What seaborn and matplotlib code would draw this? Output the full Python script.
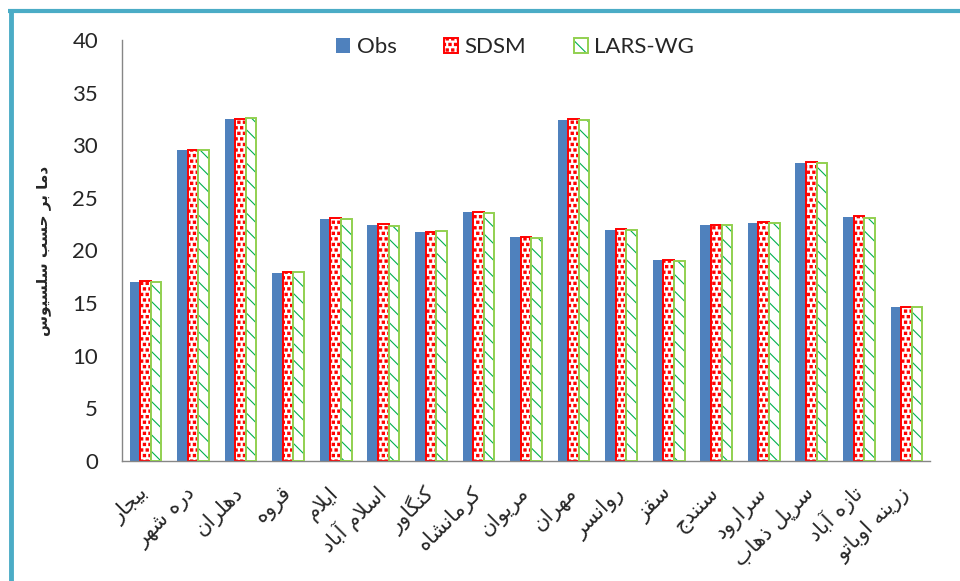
import numpy as np
import pandas as pd
import matplotlib
matplotlib.use("Agg")
import matplotlib.pyplot as plt
import matplotlib.hatch as mhatch
from matplotlib.path import Path
from matplotlib.patches import Patch, Rectangle
from matplotlib.lines import Line2D
from matplotlib.ticker import FixedLocator
import seaborn as sns

# ---------------------------------------------------------------- data
stations = ["بیجار", "دره شهر", "دهلران", "قروه", "ایلام", "اسلام آباد",
            "کنگاور", "کرمانشاه", "مریوان", "مهران", "روانسر", "سقز",
            "سنندج", "سرارود", "سرپل ذهاب", "تازه آباد", "زرینه اوباتو"]
obs = [17.0, 29.5, 32.5, 17.9, 23.0, 22.45, 21.75, 23.65, 21.25,
       32.4, 21.9, 19.05, 22.4, 22.65, 28.35, 23.2, 14.6]
sdsm = [17.1, 29.5, 32.5, 18.0, 23.05, 22.5, 21.8, 23.7, 21.3,
        32.45, 22.0, 19.1, 22.45, 22.75, 28.45, 23.3, 14.65]
lars = [17.0, 29.5, 32.55, 18.0, 22.95, 22.35, 21.85, 23.6, 21.2,
        32.35, 21.9, 19.0, 22.4, 22.6, 28.35, 23.1, 14.6]
models = ["Obs", "SDSM", "LARS-WG"]
yticks = [0, 5, 10, 15, 20, 25, 30, 35, 40]
ylabel = "دما بر حسب سلسیوس"

# ------------------------------------------------ Persian text shaping
# presentation forms: isolated, final, initial, medial
_FORMS = {
    "ا": ("\uFE8D", "\uFE8E", None, None),
    "آ": ("\uFE81", "\uFE82", None, None),
    "ب": ("\uFE8F", "\uFE90", "\uFE91", "\uFE92"),
    "پ": ("\uFB56", "\uFB57", "\uFB58", "\uFB59"),
    "ت": ("\uFE95", "\uFE96", "\uFE97", "\uFE98"),
    "ج": ("\uFE9D", "\uFE9E", "\uFE9F", "\uFEA0"),
    "چ": ("\uFB7A", "\uFB7B", "\uFB7C", "\uFB7D"),
    "ح": ("\uFEA1", "\uFEA2", "\uFEA3", "\uFEA4"),
    "د": ("\uFEA9", "\uFEAA", None, None),
    "ذ": ("\uFEAB", "\uFEAC", None, None),
    "ر": ("\uFEAD", "\uFEAE", None, None),
    "ز": ("\uFEAF", "\uFEB0", None, None),
    "س": ("\uFEB1", "\uFEB2", "\uFEB3", "\uFEB4"),
    "ش": ("\uFEB5", "\uFEB6", "\uFEB7", "\uFEB8"),
    "ق": ("\uFED5", "\uFED6", "\uFED7", "\uFED8"),
    "ک": ("\uFB8E", "\uFB8F", "\uFB90", "\uFB91"),
    "ك": ("\uFED9", "\uFEDA", "\uFEDB", "\uFEDC"),
    "گ": ("\uFB92", "\uFB93", "\uFB94", "\uFB95"),
    "ل": ("\uFEDD", "\uFEDE", "\uFEDF", "\uFEE0"),
    "م": ("\uFEE1", "\uFEE2", "\uFEE3", "\uFEE4"),
    "ن": ("\uFEE5", "\uFEE6", "\uFEE7", "\uFEE8"),
    "و": ("\uFEED", "\uFEEE", None, None),
    "ه": ("\uFEE9", "\uFEEA", "\uFEEB", "\uFEEC"),
    "ی": ("\uFBFC", "\uFBFD", "\uFBFE", "\uFBFF"),
    "ي": ("\uFEF1", "\uFEF2", "\uFEF3", "\uFEF4"),
}
_LAM_ALEF = {"ا": ("\uFEFB", "\uFEFC"), "آ": ("\uFEF5", "\uFEF6")}


def _joins_left(ch):
    f = _FORMS.get(ch)
    return f is not None and f[2] is not None


def shape_rtl(text):
    """Contextual glyph forms in visual (left-to-right) order."""
    chars = list(text)
    n = len(chars)
    out = []
    i = 0
    while i < n:
        ch = chars[i]
        joins_prev = i > 0 and _joins_left(chars[i - 1])
        if ch == "ل" and i + 1 < n and chars[i + 1] in _LAM_ALEF:
            iso, fin = _LAM_ALEF[chars[i + 1]]
            out.append(fin if joins_prev else iso)
            i += 2
            continue
        forms = _FORMS.get(ch)
        if forms is None:
            out.append(ch)
            i += 1
            continue
        joins_next = (forms[2] is not None and i + 1 < n
                      and chars[i + 1] in _FORMS)
        if joins_prev and joins_next:
            out.append(forms[3])
        elif joins_prev:
            out.append(forms[1])
        elif joins_next:
            out.append(forms[2])
        else:
            out.append(forms[0])
        i += 1
    return "".join(reversed(out))


# ------------------------------------------- square-dot fill pattern
class SquareDots(mhatch.Shapes):
    size = 0.4
    filled = True

    def __init__(self, hatch, density):
        self.num_rows = hatch.count("*") * density
        self.shape_vertices = np.array([[-0.5, -0.5], [0.5, -0.5], [0.5, 0.5],
                                        [-0.5, 0.5], [-0.5, -0.5]])
        self.shape_codes = np.array([Path.MOVETO, Path.LINETO, Path.LINETO,
                                     Path.LINETO, Path.CLOSEPOLY],
                                    dtype=Path.code_type)
        super().__init__(hatch, density)


if hasattr(mhatch, "_hatch_types"):
    mhatch._hatch_types = [SquareDots if t is mhatch.Stars else t
                           for t in mhatch._hatch_types]
    SDSM_HATCH = "***"
else:
    SDSM_HATCH = "..."

# ---------------------------------------------------------------- style
sns.set_style("white")
plt.rcParams["font.family"] = ["Lato", "DejaVu Sans"]
plt.rcParams["hatch.linewidth"] = 0.8

BLUE = "#4F81BD"
RED = "#FF0000"
LIGHT_GREEN = "#92D050"
DARK_GREEN = "#00B050"
AXIS_GREY = "#868686"
FRAME_BLUE = "#4BACC6"

df = pd.DataFrame({
    "station": stations * 3,
    "temp": obs + sdsm + lars,
    "model": [models[0]] * len(stations) + [models[1]] * len(stations)
             + [models[2]] * len(stations),
})

fig = plt.figure(figsize=(9.6, 5.81), dpi=100)
ax = fig.add_axes([0.1268, 0.2065, 0.8422, 0.7247])

sns.barplot(data=df, x="station", y="temp", hue="model", order=stations,
            hue_order=models, palette=[BLUE, "white", "white"],
            saturation=1, width=0.667, gap=0, errorbar=None, legend=False,
            ax=ax)

obs_bars, sdsm_bars, lars_bars = ax.containers[:3]
for p in obs_bars:
    p.set_edgecolor("none")
    p.set_linewidth(0)
for p in sdsm_bars:
    p.set_facecolor("white")
    p.set_edgecolor(RED)
    p.set_linewidth(1.4)
    p.set_hatch(SDSM_HATCH)
for p in lars_bars:
    p.set_facecolor("white")
    p.set_edgecolor(DARK_GREEN)
    p.set_linewidth(0)
    p.set_hatch("\\\\")
    ax.add_patch(Rectangle((p.get_x(), p.get_y()), p.get_width(),
                           p.get_height(), fill=False,
                           edgecolor=LIGHT_GREEN, linewidth=1.4, zorder=3))

# axes
ax.set_xlim(-0.5, len(stations) - 0.5)
ax.set_ylim(0, 40)
ax.set_yticks(yticks)
ax.set_yticklabels([str(v) for v in yticks], fontsize=16)
ax.tick_params(axis="y", direction="out", length=5, width=1,
               color=AXIS_GREY, pad=12)

ax.set_xticks(range(len(stations)))
ax.set_xticklabels([shape_rtl(s) for s in stations], rotation=45,
                   ha="right", va="center", rotation_mode="anchor",
                   fontsize=15, family=["DejaVu Sans"])
ax.xaxis.set_minor_locator(FixedLocator(np.arange(-0.5, len(stations), 1)))
ax.tick_params(axis="x", which="major", length=0, pad=21)
ax.tick_params(axis="x", which="minor", direction="out", length=4.5,
               width=1, color=AXIS_GREY)

for side in ("top", "right"):
    ax.spines[side].set_visible(False)
for side in ("left", "bottom"):
    ax.spines[side].set_color(AXIS_GREY)
    ax.spines[side].set_linewidth(1)

ax.set_xlabel("")
ax.set_ylabel(shape_rtl(ylabel), fontsize=11, fontweight="bold",
              family=["DejaVu Sans"])
ax.yaxis.set_label_coords(-0.087, 0.5)

# legend
handles = [
    Patch(facecolor=BLUE, edgecolor="none"),
    Patch(facecolor="white", edgecolor=RED, linewidth=1.4, hatch=SDSM_HATCH),
    (Patch(facecolor="white", edgecolor=DARK_GREEN, linewidth=0,
           hatch="\\\\"),
     Patch(fill=False, edgecolor=LIGHT_GREEN, linewidth=1.4)),
]
ax.legend(handles, models, loc="center", bbox_to_anchor=(0.4866, 0.983),
          ncol=3, frameon=False, fontsize=16, handlelength=0.63,
          handleheight=0.63, handletextpad=0.28, columnspacing=2.15)

# frame around the figure
fig.add_artist(Line2D([8 / 960, 1.0], [1 - 10.7 / 581, 1 - 10.7 / 581],
                      transform=fig.transFigure, color=FRAME_BLUE,
                      linewidth=3, solid_capstyle="butt"))
fig.add_artist(Line2D([10.7 / 960, 10.7 / 960], [1 - 9 / 581, 0.0],
                      transform=fig.transFigure, color=FRAME_BLUE,
                      linewidth=3.5, solid_capstyle="butt"))

fig.savefig("out.png", dpi=100)
